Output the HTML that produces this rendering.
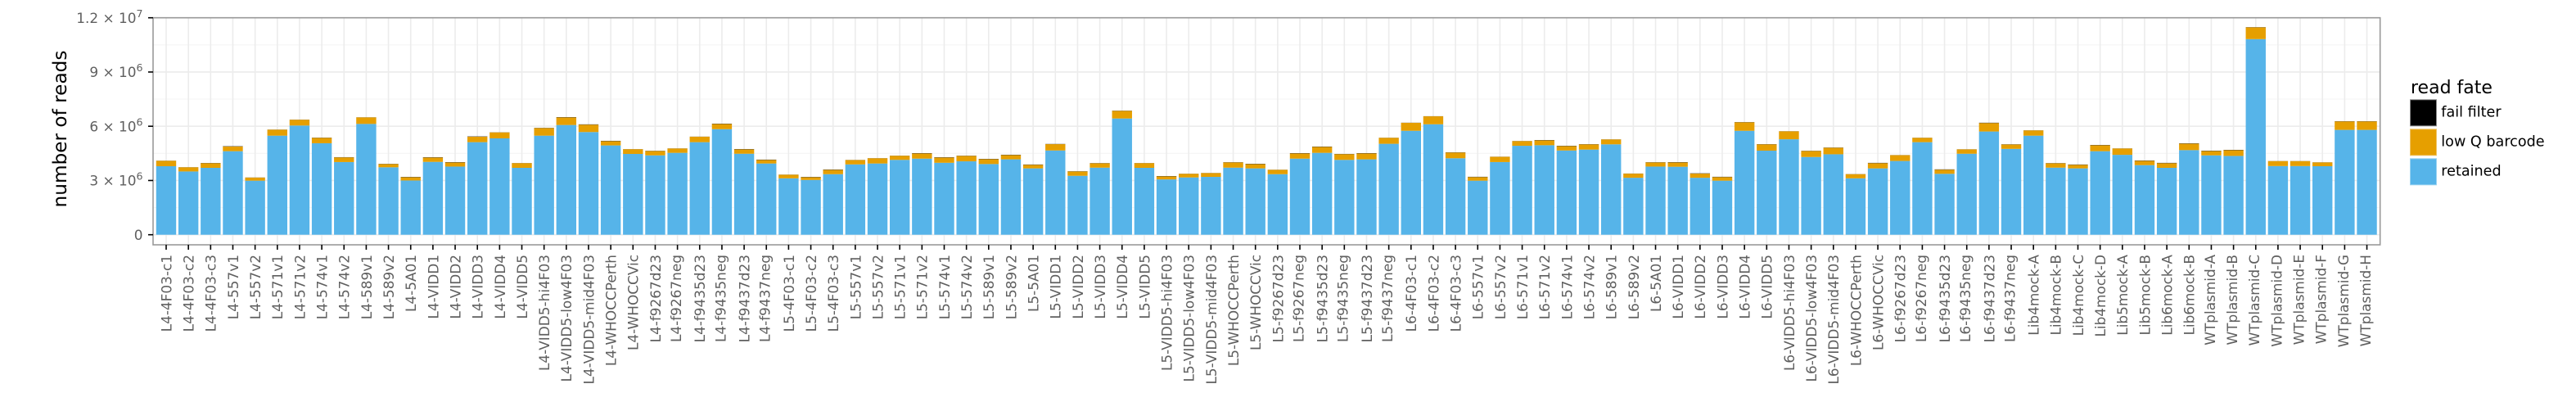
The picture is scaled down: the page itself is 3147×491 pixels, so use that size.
<!DOCTYPE html>
<html lang="en">
<head>
<meta charset="utf-8">
<title>Read fate per library</title>
<style>
html,body{margin:0;padding:0;background:#fff;width:3147px;height:491px;overflow:hidden}
svg{display:block;font-family:"DejaVu Sans","Liberation Sans",sans-serif}
</style>
</head>
<body>
<svg id="chart" xmlns="http://www.w3.org/2000/svg" width="3147" height="491" viewBox="0 0 3147 491">
<rect x="0" y="0" width="3147" height="491" fill="#ffffff"/>
<text transform="translate(81,157.5) rotate(-90)" text-anchor="middle" font-size="23.2" fill="#000">number of reads</text>
<text x="2945" y="114" font-size="22" fill="#000">read fate</text>
<rect x="2944.5" y="121.8" width="32" height="32" fill="#000" stroke="#888" stroke-width="1"/>
<text x="2982.3" y="142.7" font-size="17.6" fill="#000">fail filter</text>
<rect x="2944.5" y="157.8" width="32" height="32" fill="#E69F00" stroke="#efc466" stroke-width="1"/>
<text x="2982.3" y="178.7" font-size="17.6" fill="#000">low Q barcode</text>
<rect x="2944.5" y="193.8" width="32" height="32" fill="#56B4E9" stroke="#9ad2f1" stroke-width="1"/>
<text x="2982.3" y="214.7" font-size="17.6" fill="#000">retained</text>
</svg>
<script>
const categories = [
"L4-4F03-c1","L4-4F03-c2","L4-4F03-c3","L4-557v1","L4-557v2","L4-571v1","L4-571v2","L4-574v1","L4-574v2","L4-589v1","L4-589v2","L4-5A01","L4-VIDD1","L4-VIDD2","L4-VIDD3","L4-VIDD4","L4-VIDD5","L4-VIDD5-hi4F03","L4-VIDD5-low4F03","L4-VIDD5-mid4F03","L4-WHOCCPerth","L4-WHOCCVic","L4-f9267d23","L4-f9267neg","L4-f9435d23","L4-f9435neg","L4-f9437d23","L4-f9437neg",
"L5-4F03-c1","L5-4F03-c2","L5-4F03-c3","L5-557v1","L5-557v2","L5-571v1","L5-571v2","L5-574v1","L5-574v2","L5-589v1","L5-589v2","L5-5A01","L5-VIDD1","L5-VIDD2","L5-VIDD3","L5-VIDD4","L5-VIDD5","L5-VIDD5-hi4F03","L5-VIDD5-low4F03","L5-VIDD5-mid4F03","L5-WHOCCPerth","L5-WHOCCVic","L5-f9267d23","L5-f9267neg","L5-f9435d23","L5-f9435neg","L5-f9437d23","L5-f9437neg",
"L6-4F03-c1","L6-4F03-c2","L6-4F03-c3","L6-557v1","L6-557v2","L6-571v1","L6-571v2","L6-574v1","L6-574v2","L6-589v1","L6-589v2","L6-5A01","L6-VIDD1","L6-VIDD2","L6-VIDD3","L6-VIDD4","L6-VIDD5","L6-VIDD5-hi4F03","L6-VIDD5-low4F03","L6-VIDD5-mid4F03","L6-WHOCCPerth","L6-WHOCCVic","L6-f9267d23","L6-f9267neg","L6-f9435d23","L6-f9435neg","L6-f9437d23","L6-f9437neg",
"Lib4mock-A","Lib4mock-B","Lib4mock-C","Lib4mock-D","Lib5mock-A","Lib5mock-B","Lib6mock-A","Lib6mock-B",
"WTplasmid-A","WTplasmid-B","WTplasmid-C","WTplasmid-D","WTplasmid-E","WTplasmid-F","WTplasmid-G","WTplasmid-H"];

// All read counts below are in millions of reads.
const retainedMillions = [
3.79,3.50,3.70,4.62,2.99,5.48,6.04,5.06,4.02,6.13,3.73,3.00,4.03,3.77,5.12,5.33,3.70,5.48,6.07,5.68,4.94,4.47,4.39,4.53,5.12,5.84,4.48,3.94,
3.12,3.03,3.35,3.89,3.94,4.14,4.21,3.98,4.06,3.91,4.17,3.67,4.66,3.26,3.71,6.43,3.70,3.06,3.17,3.20,3.71,3.67,3.35,4.21,4.53,4.14,4.17,5.03,
5.75,6.11,4.23,2.99,4.02,4.92,4.95,4.66,4.71,5.00,3.15,3.77,3.76,3.15,2.99,5.75,4.65,5.28,4.30,4.45,3.12,3.67,4.08,5.12,3.37,4.48,5.71,4.75,
5.48,3.71,3.67,4.62,4.42,3.85,3.70,4.68,
4.39,4.36,10.82,3.80,3.80,3.79,5.80,5.80];

const lowQBarcodeMillions = [
0.30,0.23,0.26,0.26,0.17,0.33,0.32,0.30,0.26,0.36,0.18,0.18,0.24,0.23,0.30,0.33,0.26,0.42,0.42,0.41,0.24,0.26,0.24,0.24,0.30,0.29,0.24,0.20,
0.20,0.15,0.24,0.24,0.29,0.23,0.29,0.29,0.30,0.27,0.24,0.20,0.35,0.24,0.24,0.42,0.26,0.17,0.20,0.21,0.29,0.24,0.24,0.29,0.33,0.32,0.33,0.33,
0.44,0.44,0.32,0.20,0.29,0.26,0.27,0.24,0.29,0.27,0.23,0.23,0.24,0.23,0.20,0.47,0.35,0.44,0.33,0.36,0.23,0.29,0.32,0.24,0.23,0.24,0.47,0.24,
0.29,0.24,0.20,0.33,0.35,0.24,0.26,0.36,
0.24,0.32,0.65,0.27,0.27,0.21,0.47,0.47];

const failFilterMillions = [
0.005,0.005,0.01,0.015,0.005,0.005,0.005,0.01,0.01,0.005,0.01,0.015,0.015,0.015,0.015,0.005,0.005,0.01,0.015,0.015,0.015,0.005,0.01,0.005,0.005,0.015,0.015,0.015,
0.005,0.015,0.015,0.005,0.005,0.005,0.015,0.015,0.01,0.015,0.015,0.015,0.01,0.01,0.01,0.01,0.005,0.015,0.005,0.005,0.01,0.015,0.005,0.015,0.015,0.01,0.015,0.005,
0.005,0.005,0.01,0.015,0.005,0.005,0.015,0.015,0.01,0.005,0.005,0.01,0.015,0.015,0.015,0.01,0.01,0.005,0.01,0.01,0.005,0.015,0.005,0.005,0.015,0.005,0.015,0.01,
0.005,0.01,0.015,0.015,0.005,0.015,0.015,0.015,
0.015,0.015,0.01,0.005,0.005,0.005,0.01,0.01];

const yTickValues = [0,3,6,9,12];
const yTickMantissas = ["0","3","6","9","1.2"];
const yTickExponents = ["","6","6","6","7"];
const yMinorGridValues = [1.5,4.5,7.5,10.5];

const NS = "http://www.w3.org/2000/svg";
const svg = document.getElementById("chart");
const panel = {left:187, right:2907.7, top:21.7, bottom:299};
const firstX = 203, stepX = 27.157, barWidth = 24.4;
const zeroY = 286.7, pxPerMillion = 22.083;

function xPos(i){ return firstX + i * stepX; }
function yPos(v){ return zeroY - v * pxPerMillion; }
function make(tag, attrs, parent){
  const el = document.createElementNS(NS, tag);
  for (const k in attrs) el.setAttribute(k, attrs[k]);
  (parent || svg).appendChild(el);
  return el;
}

const grid = make("g", {});


yMinorGridValues.forEach(function(v){
  const l = make("line", {x1:panel.left, x2:panel.right, y1:yPos(v), y2:yPos(v), stroke:"#f5f5f5", "stroke-width":1.2}, grid);
  
  
});
yTickValues.forEach(function(v){
  const l = make("line", {x1:panel.left, x2:panel.right, y1:yPos(v), y2:yPos(v), stroke:"#ececec", "stroke-width":1.6}, grid);
  
  
});
categories.forEach(function(c, i){
  const l = make("line", {x1:xPos(i), x2:xPos(i), y1:panel.top, y2:panel.bottom, stroke:"#ececec", "stroke-width":1.6}, grid);
  
  
});

const bars = make("g", {});


categories.forEach(function(c, i){
  const x = xPos(i) - barWidth / 2;
  const r = retainedMillions[i], q = lowQBarcodeMillions[i], f = failFilterMillions[i];
  const b1 = make("rect", {x:x, width:barWidth, y:yPos(r), height:yPos(0)-yPos(r), fill:"#56B4E9"}, bars);
  
  
  const b2 = make("rect", {x:x, width:barWidth, y:yPos(r+q), height:yPos(r)-yPos(r+q), fill:"#E69F00"}, bars);
  
  
  const b3 = make("rect", {x:x, width:barWidth, y:yPos(r+q+f), height:yPos(r+q)-yPos(r+q+f), fill:"#000000"}, bars);
  
  
});

const border = make("rect", {x:panel.left, y:panel.top, width:panel.right-panel.left, height:panel.bottom-panel.top, fill:"none", stroke:"#999999", "stroke-width":1.6});



const yAxis = make("g", {});


yTickValues.forEach(function(v, i){
  const t = make("line", {x1:181, x2:187, y1:yPos(v), y2:yPos(v), stroke:"#000", "stroke-width":1.6}, yAxis);
  
  
  const label = make("text", {x:174.5, y:yPos(v)+6.2, "text-anchor":"end", "font-size":16.9, fill:"#5f5f5f"}, yAxis);
  
  
  if (yTickExponents[i]) {
    label.textContent = yTickMantissas[i] + " \u00d7 10";
    const sup = make("tspan", {dy:-7, "font-size":12.6}, label);
    sup.textContent = yTickExponents[i];
  } else {
    label.textContent = yTickMantissas[i];
  }
});

const xAxis = make("g", {});


categories.forEach(function(c, i){
  const x = xPos(i);
  const t = make("line", {x1:x, x2:x, y1:299, y2:305, stroke:"#000", "stroke-width":1.6}, xAxis);
  
  
  const off = /[gp]/.test(c) ? 4.4 : 6.4;
  const label = make("text", {transform:"translate(" + (x+off) + ",311) rotate(-90)", "text-anchor":"end", "font-size":16.9, fill:"#5f5f5f"}, xAxis);
  
  
  label.textContent = c;
});
</script>
</body>
</html>
